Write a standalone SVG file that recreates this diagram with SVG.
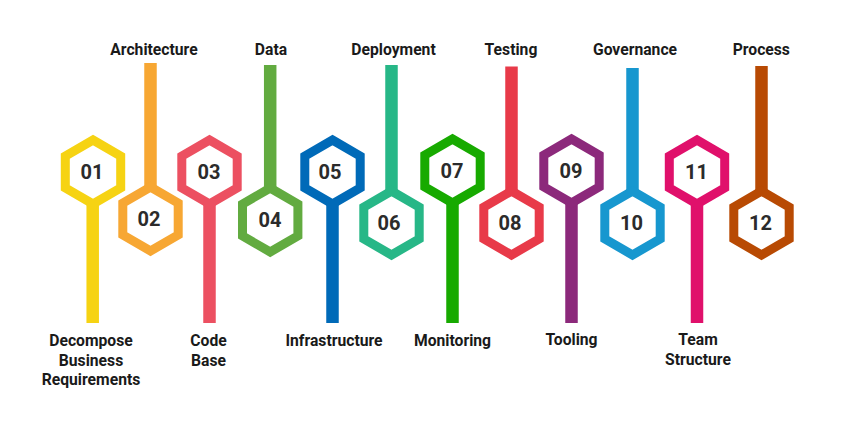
<svg xmlns="http://www.w3.org/2000/svg" xmlns:xlink="http://www.w3.org/1999/xlink" width="845" height="424" viewBox="0 0 845 424">
<style>
.hex{fill:#fff;stroke-width:9;stroke-linejoin:miter}
.num{font-family:Roboto,"Liberation Sans",sans-serif;font-weight:700;font-size:20px;fill:#2b2b2b;text-anchor:middle}
.lbl{font-family:Roboto,"Liberation Sans",sans-serif;font-weight:700;font-size:15.7px;fill:#1a1a1a;text-anchor:middle}
.stem{stroke-width:12.5;fill:none}
</style>
<defs>
<polygon id="hx" points="0,-32 27.7,-16 27.7,16 0,32 -27.7,16 -27.7,-16"/>
</defs>
<rect width="845" height="424" fill="#fff"/>
<g id="connectors" class="stem">
<line x1="92.7" y1="200" x2="92.7" y2="323" stroke="#F6D313"/>
<line x1="150.5" y1="63" x2="150.5" y2="190" stroke="#F7A733"/>
<line x1="209.5" y1="200" x2="209.5" y2="323" stroke="#EC5061"/>
<line x1="270.2" y1="65" x2="270.2" y2="190" stroke="#62AB40"/>
<line x1="332.5" y1="200" x2="332.5" y2="323" stroke="#006AB8"/>
<line x1="391.5" y1="65" x2="391.5" y2="190" stroke="#27B787"/>
<line x1="452.5" y1="200" x2="452.5" y2="323" stroke="#17AA00"/>
<line x1="511.5" y1="66.5" x2="511.5" y2="190" stroke="#E83A49"/>
<line x1="571.5" y1="200" x2="571.5" y2="323" stroke="#8C297B"/>
<line x1="632.5" y1="68" x2="632.5" y2="190" stroke="#1797CF"/>
<line x1="697" y1="200" x2="697" y2="323" stroke="#E0106B"/>
<line x1="761.5" y1="66" x2="761.5" y2="190" stroke="#B84A03"/>
</g>
<g id="n01"><use xlink:href="#hx" class="hex" x="93" y="172" stroke="#F6D313"/><text class="num" x="92" y="179">01</text>
<text class="lbl" x="91" y="346">Decompose</text><text class="lbl" x="91" y="366">Business</text><text class="lbl" x="91" y="385">Requirements</text></g>
<g id="n02"><use xlink:href="#hx" class="hex" x="150.5" y="219" stroke="#F7A733"/><text class="num" x="149" y="226">02</text>
<text class="lbl" x="154" y="54.5">Architecture</text></g>
<g id="n03"><use xlink:href="#hx" class="hex" x="209.5" y="172" stroke="#EC5061"/><text class="num" x="209" y="179">03</text>
<text class="lbl" x="208.5" y="346">Code</text><text class="lbl" x="208.5" y="366">Base</text></g>
<g id="n04"><use xlink:href="#hx" class="hex" x="270.2" y="220" stroke="#62AB40"/><text class="num" x="270" y="227">04</text>
<text class="lbl" x="271" y="55">Data</text></g>
<g id="n05"><use xlink:href="#hx" class="hex" x="332.5" y="172" stroke="#006AB8"/><text class="num" x="330" y="179">05</text>
<text class="lbl" x="334" y="346">Infrastructure</text></g>
<g id="n06"><use xlink:href="#hx" class="hex" x="391.5" y="223" stroke="#27B787"/><text class="num" x="389" y="230">06</text>
<text class="lbl" x="393.5" y="55">Deployment</text></g>
<g id="n07"><use xlink:href="#hx" class="hex" x="452.5" y="171" stroke="#17AA00"/><text class="num" x="452" y="178">07</text>
<text class="lbl" x="452.5" y="346">Monitoring</text></g>
<g id="n08"><use xlink:href="#hx" class="hex" x="511.5" y="223" stroke="#E83A49"/><text class="num" x="510" y="230">08</text>
<text class="lbl" x="511" y="55">Testing</text></g>
<g id="n09"><use xlink:href="#hx" class="hex" x="571.5" y="171" stroke="#8C297B"/><text class="num" x="571" y="178">09</text>
<text class="lbl" x="571.5" y="345">Tooling</text></g>
<g id="n10"><use xlink:href="#hx" class="hex" x="632.5" y="223" stroke="#1797CF"/><text class="num" x="631.5" y="230">10</text>
<text class="lbl" x="635" y="54.5">Governance</text></g>
<g id="n11"><use xlink:href="#hx" class="hex" x="697" y="172" stroke="#E0106B"/><text class="num" x="696.5" y="179">11</text>
<text class="lbl" x="698" y="345">Team</text><text class="lbl" x="698" y="365">Structure</text></g>
<g id="n12"><use xlink:href="#hx" class="hex" x="761.5" y="223" stroke="#B84A03"/><text class="num" x="760.5" y="230">12</text>
<text class="lbl" x="761.3" y="54.5">Process</text></g>
</svg>
